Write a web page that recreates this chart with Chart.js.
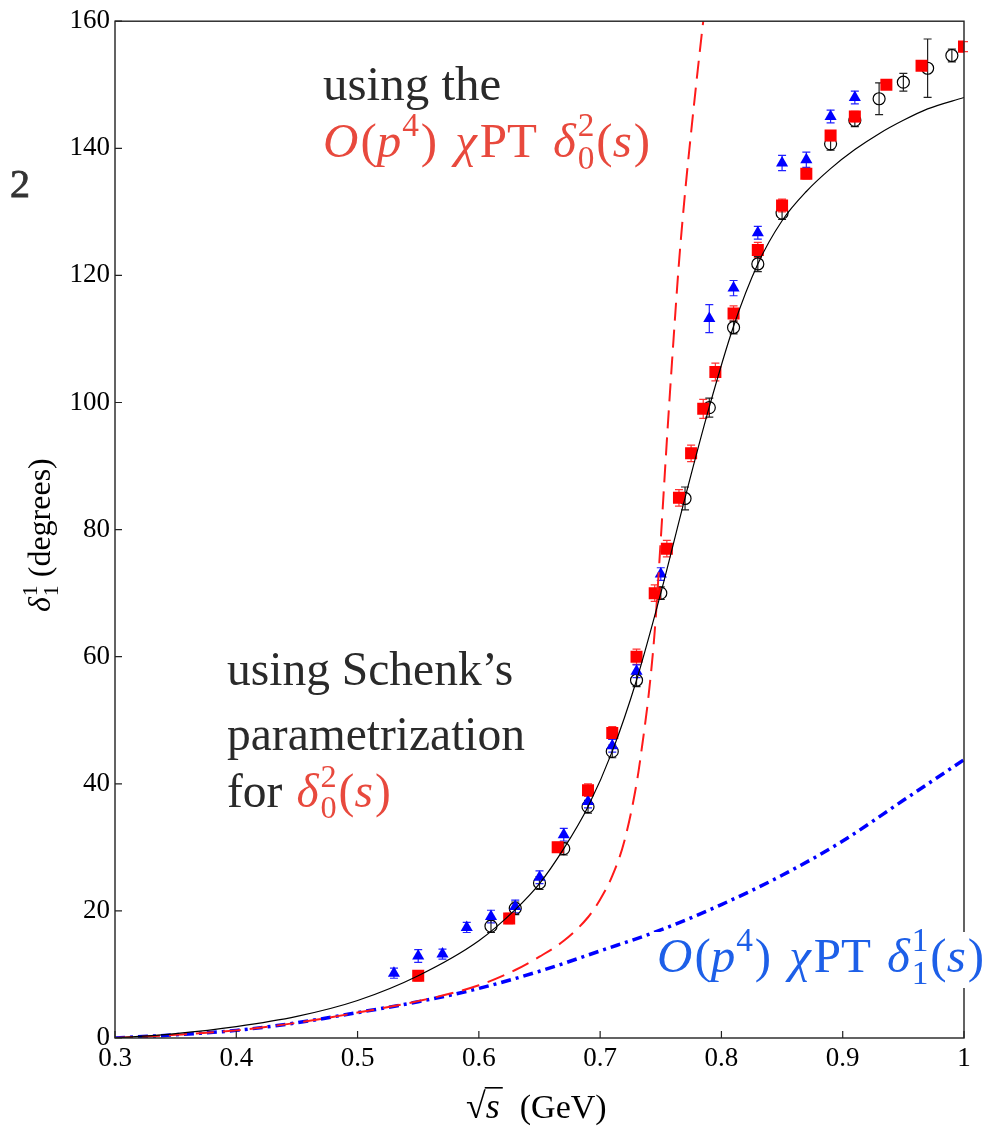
<!DOCTYPE html>
<html lang="en">
<head>
<meta charset="UTF-8" />
<title>P-wave phase shift</title>
<script src="https://cdn.jsdelivr.net/npm/chart.js"></script>
<style>
  body { margin: 0; background: #fff; }
  canvas { display: block; }
</style>
</head>
<body>
<canvas id="phaseChart" width="1001" height="1128"></canvas>
<script>
// open black circles (data set 1)
const circX = [0.61, 0.63, 0.65, 0.67, 0.69, 0.71, 0.73, 0.75, 0.77, 0.79, 0.81, 0.83, 0.85, 0.89, 0.91, 0.93, 0.95, 0.97, 0.99];
const circY = [17.6, 20.4, 24.4, 29.8, 36.4, 45.1, 56.3, 70.0, 84.9, 99.2, 111.8, 121.8, 129.8, 140.7, 144.4, 147.8, 150.4, 152.6, 154.6];
const circErr = [1.0, 1.0, 1.0, 1.0, 1.0, 1.0, 1.0, 1.0, 1.8, 1.5, 1.0, 1.2, 1.0, 1.0, 1.0, 2.5, 1.4, 4.6, 1.0];

// blue triangles
const triX = [0.53, 0.55, 0.57, 0.59, 0.61, 0.63, 0.65, 0.67, 0.69, 0.71, 0.73, 0.75, 0.79, 0.81, 0.83, 0.85, 0.87, 0.89, 0.91];
const triY = [10.2, 12.9, 13.2, 17.4, 19.1, 20.7, 25.3, 32.0, 37.2, 46.0, 57.7, 73.0, 113.2, 118.0, 126.7, 137.7, 138.2, 145.0, 148.0];
const triErr = [0.8, 1.0, 0.8, 0.8, 1.0, 1.0, 1.0, 1.0, 1.0, 1.0, 1.0, 1.0, 2.2, 1.2, 1.0, 1.2, 1.2, 1.0, 1.0];

// red squares
const sqX = [0.55, 0.625, 0.665, 0.69, 0.71, 0.73, 0.745, 0.755, 0.765, 0.775, 0.785, 0.795, 0.81, 0.83, 0.85, 0.87, 0.89, 0.91, 0.936, 0.965, 1.0];
const sqY = [9.8, 18.8, 30.0, 39.0, 48.0, 60.0, 70.0, 77.0, 85.0, 92.0, 99.0, 104.8, 114.0, 124.0, 131.0, 136.0, 142.0, 145.0, 150.0, 153.0, 156.0];
const sqErr = [0.8, 0.8, 0.8, 1.0, 1.0, 1.2, 1.3, 1.3, 1.3, 1.3, 1.5, 1.4, 1.2, 1.2, 1.0, 0.8, 0.8, 0.8, 0.5, 0.5, 0.8];

// solid black: Schenk's parametrization
const schenkX = [0.3, 0.35, 0.4, 0.45, 0.5, 0.55, 0.6, 0.63, 0.65, 0.67, 0.69, 0.71, 0.73, 0.75, 0.77, 0.79, 0.81, 0.83, 0.85, 0.87, 0.89, 0.91, 0.93, 0.95, 0.97, 1.0];
const schenkY = [0, 0.7, 1.8, 3.4, 5.9, 9.8, 15.3, 20.2, 24.3, 29.8, 36.4, 45.1, 56.3, 70.0, 85.0, 99.3, 112.0, 121.8, 128.6, 133.2, 136.8, 139.8, 142.3, 144.4, 146.2, 148.0];

// red dashed: using O(p^4) delta_0^2
const dashX = [0.3, 0.35, 0.4, 0.45, 0.5, 0.55, 0.6, 0.63, 0.65, 0.67, 0.69, 0.7, 0.71, 0.72, 0.73, 0.735, 0.74, 0.745, 0.75, 0.755, 0.76, 0.765, 0.77, 0.775, 0.78, 0.785, 0.79];
const dashY = [0, 0.5, 1.2, 2.4, 4.0, 5.8, 8.3, 10.7, 12.8, 15.3, 19.0, 21.8, 25.5, 31.0, 40.0, 46.5, 54.0, 64.0, 78.5, 94.0, 108.5, 122.0, 133.0, 142.5, 151.5, 160.0, 168.0];

// blue dash-dot: O(p^4) ChPT delta_1^1
const chptX = [0.3, 0.35, 0.4, 0.45, 0.5, 0.55, 0.6, 0.65, 0.7, 0.75, 0.8, 0.85, 0.9, 0.95, 1.0];
const chptY = [0, 0.5, 1.2, 2.4, 4.0, 5.7, 7.8, 10.5, 13.7, 17.0, 21.0, 25.6, 31.0, 37.4, 43.8];

const FONT = '"Liberation Serif", "DejaVu Serif", serif';
const RED = '#e8493d';
const BLUE = '#1d5fe8';
const DARK = '#2a2a2a';

function pts(xs, ys) {
  return xs.map((x, i) => ({ x: x, y: ys[i] }));
}

// draws a run of text pieces, with italic, superscript and subscript pieces
function drawRun(ctx, x, y, size, color, parts) {
  let cx = x;
  parts.forEach(p => {
    const small = p.sup || p.sub;
    const s = small ? size * 0.68 : size;
    ctx.font = (p.it ? 'italic ' : '') + s + 'px ' + FONT;
    ctx.fillStyle = p.c || color;
    const dy = p.sup ? -0.42 * size : (p.sub ? 0.24 * size : 0);
    ctx.fillText(p.t, cx, y + dy);
    if (!p.hold) cx += ctx.measureText(p.t).width + (p.gap || 0);
  });
  return cx;
}

function mathLabel(sup, sub) {
  return [
    { t: 'O', it: 1, gap: 2 }, { t: '(' }, { t: 'p', it: 1, gap: 1 }, { t: '4', sup: 1, gap: 2 }, { t: ')', gap: 18 },
    { t: 'χ', it: 1, gap: 3 }, { t: 'P' }, { t: 'T', gap: 16 },
    { t: 'δ', it: 1, gap: 2 }, { t: sup, sup: 1, hold: 1 }, { t: sub, sub: 1, gap: 2 }, { t: '(' }, { t: 's', it: 1, gap: 2 }, { t: ')' }
  ];
}

const errorBars = {
  id: 'errorBars',
  beforeDatasetsDraw(chart) {
    const ctx = chart.ctx;
    const xs = chart.scales.x, ys = chart.scales.y;
    chart.data.datasets.forEach(ds => {
      if (!ds.errors) return;
      ctx.save();
      ctx.strokeStyle = ds.errColor;
      ctx.lineWidth = 1.2;
      ds.data.forEach((p, i) => {
        const e = ds.errors[i];
        const px = xs.getPixelForValue(p.x);
        const top = ys.getPixelForValue(p.y + e);
        const bot = ys.getPixelForValue(p.y - e);
        ctx.beginPath();
        ctx.moveTo(px, top); ctx.lineTo(px, bot);
        ctx.moveTo(px - 4, top); ctx.lineTo(px + 4, top);
        ctx.moveTo(px - 4, bot); ctx.lineTo(px + 4, bot);
        ctx.stroke();
      });
      ctx.restore();
    });
  }
};

const decorations = {
  id: 'decorations',
  afterDraw(chart) {
    const ctx = chart.ctx;
    const a = chart.chartArea;
    const xs = chart.scales.x, ys = chart.scales.y;
    ctx.save();

    // frame
    ctx.strokeStyle = '#222';
    ctx.lineWidth = 1.4;
    ctx.strokeRect(a.left, a.top, a.right - a.left, a.bottom - a.top);

    // inward ticks
    ctx.lineWidth = 1.2;
    ctx.beginPath();
    xs.ticks.forEach(t => {
      const px = xs.getPixelForValue(t.value);
      ctx.moveTo(px, a.bottom); ctx.lineTo(px, a.bottom - 7);
    });
    ys.ticks.forEach(t => {
      const py = ys.getPixelForValue(t.value);
      ctx.moveTo(a.left, py); ctx.lineTo(a.left + 7, py);
    });
    ctx.stroke();

    ctx.textAlign = 'left';
    ctx.textBaseline = 'alphabetic';

    // panel number
    ctx.font = '40px ' + FONT;
    ctx.fillStyle = '#333';
    ctx.fillText('2', 10, 197);
    ctx.strokeStyle = '#333';
    ctx.lineWidth = 0.8;
    ctx.strokeText('2', 10, 197);

    // annotations
    ctx.font = '49px ' + FONT;
    ctx.fillStyle = DARK;
    ctx.fillText('using the', 323, 100);
    drawRun(ctx, 323, 157, 49, RED, mathLabel('2', '0'));

    ctx.font = '47.5px ' + FONT;
    ctx.fillStyle = DARK;
    ctx.fillText('using Schenk’s', 227, 685);
    ctx.fillText('parametrization', 227, 750);
    drawRun(ctx, 227, 807, 47.5, DARK, [
      { t: 'for', gap: 14 },
      { t: 'δ', it: 1, c: RED, gap: 2 }, { t: '2', sup: 1, hold: 1, c: RED }, { t: '0', sub: 1, c: RED, gap: 2 },
      { t: '(', c: RED }, { t: 's', it: 1, c: RED, gap: 2 }, { t: ')', c: RED }
    ]);

    // blue label on white box
    ctx.fillStyle = '#fff';
    ctx.fillRect(652, 932, 345, 56);
    drawRun(ctx, 657, 972, 49, BLUE, mathLabel('1', '1'));

    // x axis title: sqrt(s) (GeV)
    ctx.fillStyle = '#000';
    ctx.font = '36px ' + FONT;
    ctx.fillText('√', 466, 1118);
    const rw = ctx.measureText('√').width;
    ctx.font = 'italic 36px ' + FONT;
    ctx.fillText('s', 466 + rw, 1118);
    const sw = ctx.measureText('s').width;
    ctx.fillRect(466 + rw - 1, 1087, sw + 4, 1.6);
    ctx.font = '34px ' + FONT;
    ctx.fillText('(GeV)', 466 + rw + sw + 20, 1118);

    // y axis title
    ctx.save();
    ctx.translate(50, 612);
    ctx.rotate(-Math.PI / 2);
    drawRun(ctx, 0, 0, 32, '#000', [
      { t: 'δ', it: 1, gap: 1 }, { t: '1', sup: 1, hold: 1 }, { t: '1', sub: 1, gap: 8 }, { t: '(degrees)' }
    ]);
    ctx.restore();

    ctx.restore();
  }
};

const chart = new Chart(document.getElementById('phaseChart').getContext('2d'), {
  type: 'scatter',
  data: {
    datasets: [
      {
        label: 'Schenk',
        data: pts(schenkX, schenkY),
        showLine: true,
        borderColor: '#000',
        borderWidth: 1.2,
        pointRadius: 0,
        cubicInterpolationMode: 'monotone',
        order: 1
      },
      {
        label: 'O(p4) delta02',
        data: pts(dashX, dashY),
        showLine: true,
        borderColor: '#ff1a1a',
        borderWidth: 2,
        borderDash: [18, 9],
        pointRadius: 0,
        cubicInterpolationMode: 'monotone',
        order: 2
      },
      {
        label: 'O(p4) delta11',
        data: pts(chptX, chptY),
        showLine: true,
        borderColor: '#0000ff',
        borderWidth: 3.5,
        borderDash: [10, 5, 3, 5],
        pointRadius: 0,
        cubicInterpolationMode: 'monotone',
        order: 3
      },
      {
        label: 'squares',
        data: pts(sqX, sqY),
        errors: sqErr,
        errColor: '#ff3333',
        pointStyle: 'rect',
        pointRadius: 8.5,
        backgroundColor: '#ff0000',
        borderColor: '#ff0000',
        borderWidth: 0,
        clip: 0,
        order: 4
      },
      {
        label: 'triangles',
        data: pts(triX, triY),
        errors: triErr,
        errColor: '#2222ff',
        pointStyle: 'triangle',
        pointRadius: 7,
        backgroundColor: '#0000ff',
        borderColor: '#0000ff',
        borderWidth: 0,
        order: 5
      },
      {
        label: 'circles',
        data: pts(circX, circY),
        errors: circErr,
        errColor: '#222',
        pointStyle: 'circle',
        pointRadius: 6,
        backgroundColor: 'rgba(255,255,255,0)',
        borderColor: '#000',
        borderWidth: 1.2,
        order: 6
      }
    ]
  },
  options: {
    responsive: false,
    animation: false,
    layout: { padding: { top: 20, right: 37, left: 0, bottom: 0 } },
    plugins: {
      legend: { display: false },
      tooltip: { enabled: false }
    },
    scales: {
      x: {
        type: 'linear',
        min: 0.3,
        max: 1,
        grid: { display: false, drawTicks: false },
        border: { display: false },
        ticks: {
          stepSize: 0.1,
          padding: 5,
          color: '#000',
          font: { family: FONT, size: 27 },
          maxRotation: 0,
          callback: v => String(Math.round(v * 10) / 10)
        },
        afterFit: s => { s.height = 90; }
      },
      y: {
        min: 0,
        max: 160,
        grid: { display: false, drawTicks: false },
        border: { display: false },
        ticks: {
          stepSize: 20,
          padding: 5,
          color: '#000',
          font: { family: FONT, size: 27 }
        },
        afterFit: s => { s.width = 115; }
      }
    }
  },
  plugins: [errorBars, decorations]
});
</script>
</body>
</html>
